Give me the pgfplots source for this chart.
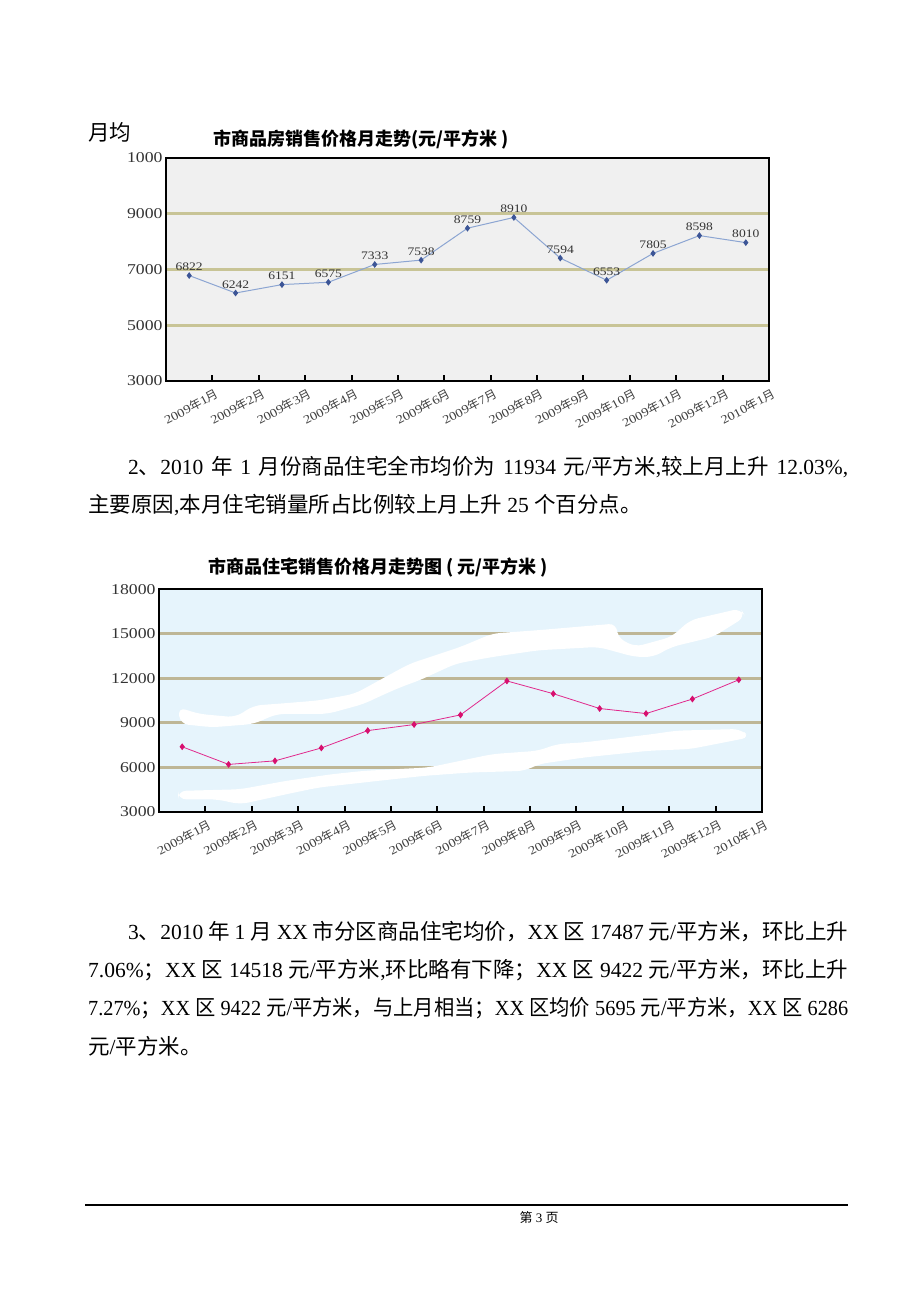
\documentclass[border=0pt]{standalone}
\usepackage{fontspec}
\setmainfont{Liberation Serif}
\newfontfamily\cjk{Noto Sans CJK SC}
\newfontfamily\num[FakeStretch=1.18]{Liberation Serif}
\usepackage{graphicx}
\usepackage{pgfplots}
\pgfplotsset{compat=1.18}

\newcommand\C[1]{{\cjk #1}}
\newcommand\body{\fontsize{21.5}{24}\selectfont}
\newcommand\ylab{\fontsize{15}{15}\selectfont\num}
\newcommand\xlab{\fontsize{12}{12}\selectfont\num}
\newcommand\dlab{\fontsize{11.5}{11.5}\selectfont\num}

\definecolor{gridA}{RGB}{200,196,150}
\definecolor{gridB}{RGB}{190,182,150}
\definecolor{bgA}{RGB}{240,240,240}
\definecolor{bgB}{RGB}{230,244,252}
\definecolor{lineA}{RGB}{140,165,210}
\definecolor{markA}{RGB}{60,85,150}
\definecolor{lineB}{RGB}{225,40,140}
\definecolor{markB}{RGB}{215,15,110}

\pgfplotsset{
  monthchart/.style={
    anchor=south west, scale only axis,
    xmin=-0.5, xmax=12.5,
    scaled y ticks=false,
    axis line style={line width=2.2pt, black},
    ymajorgrids,
    extra y tick style={grid=none, ytick style={draw=none}},
    ytick style={draw=none},
    tick pos=left, tick align=inside,
    major tick length=6pt,
    xtick style={line width=2pt, black},
    xtick={0.5,1.5,...,12.5},
    xticklabels={2009\C{年}1\C{月},2009\C{年}2\C{月},2009\C{年}3\C{月},2009\C{年}4\C{月},
      2009\C{年}5\C{月},2009\C{年}6\C{月},2009\C{年}7\C{月},2009\C{年}8\C{月},
      2009\C{年}9\C{月},2009\C{年}10\C{月},2009\C{年}11\C{月},2009\C{年}12\C{月},2010\C{年}1\C{月}},
    xticklabel style={rotate=28, anchor=north east, font=\xlab, text=black!75, inner sep=1pt, yshift=-6pt},
    yticklabel style={font=\ylab, text=black!80},
  }
}

\begin{document}
\begin{tikzpicture}
\path[use as bounding box, fill=white] (0,0) rectangle (920pt,-1302pt);

% text above the first chart (the rest is hidden by the chart)
\node[anchor=base west, inner sep=0, font=\body] at (88pt,-140.6pt) {\C{月均}};

% chart 1
\node[anchor=base west, inner sep=0, font=\fontsize{18}{18}\selectfont\cjk\bfseries] at (213pt,-145pt) {市商品房销售价格月走势(元/平方米 )};
\begin{axis}[monthchart,
  at={(166pt,-381pt)}, width=603pt, height=223pt,
  ymin=3000, ymax=11000,
  axis background/.style={fill=bgA},
  major grid style={gridA, line width=3pt},
  ytick={5000,7000,9000}, yticklabels={5000,7000,9000},
  extra y ticks={3000,11000}, extra y tick labels={3000,1000},
]
\addplot[lineA, line width=1pt, mark=diamond*, mark size=2.6pt,
  mark options={markA, fill=markA},
  nodes near coords, point meta=explicit symbolic,
  every node near coord/.append style={font=\dlab, text=black!80, anchor=south, yshift=1pt}]
  coordinates {(0,6783)[6822] (1,6157)[6242] (2,6458)[6151] (3,6542)[6575]
    (4,7181)[7333] (5,7337)[7538] (6,8482)[8759] (7,8867)[8910] (8,7410)[7594]
    (9,6614)[6553] (10,7578)[7805] (11,8217)[8598] (12,7964)[8010]};
\end{axis}

% paragraph 2
\node[anchor=base west, inner sep=0, font=\body] at (128pt,-474pt)
  {\makebox[720pt][s]{2\C{、}2010 \C{年} 1 \C{月份商品住宅全市均价为} 11934 \C{元}/\C{平方米},\C{较上月上升} 12.03\%,}};
\node[anchor=base west, inner sep=0, font=\body] at (88pt,-512.6pt)
  {\C{主要原因},\C{本月住宅销量所占比例较上月上升} 25 \C{个百分点。}};

% chart 2
\node[anchor=base west, inner sep=0, font=\fontsize{18}{18}\selectfont\cjk\bfseries] at (208pt,-573pt) {市商品住宅销售价格月走势图 ( 元/平方米 )};
\begin{axis}[monthchart,
  at={(159pt,-811.7pt)}, width=603pt, height=222.4pt,
  ymin=3000, ymax=18000,
  axis background/.style={fill=bgB},
  major grid style={gridB, line width=3pt},
  ytick={6000,9000,12000,15000}, yticklabels={6000,9000,12000,15000},
  extra y ticks={3000,18000}, extra y tick labels={3000,18000},
]
% white cloud streaks of the background
\addplot[fill=white, draw=none, rounded corners=8pt] coordinates {
  (-0.09,10048) (0.36,9596) (1.15,9371) (1.54,10161) (2.04,10274) (2.93,10500)
  (3.72,10952) (4.51,12307) (4.91,12985) (6.0,14115) (6.69,15018) (7.68,15244)
  (9.37,15696) (9.37,14792) (9.76,14115) (10.55,14792) (10.95,15922) (12.04,16712)
  (12.14,16148) (11.45,14792) (10.55,14115) (10.16,13437) (9.76,13437) (8.97,14115)
  (7.68,13889) (6.69,13437) (5.9,12985) (5.11,11856) (4.71,11404) (4.22,10726)
  (3.92,10274) (3.13,9596) (2.04,9596) (1.54,8919) (0.65,8693) (-0.04,8919)} -- cycle;
\addplot[fill=white, draw=none, rounded corners=8pt] coordinates {
  (-0.09,4401) (1.25,4514) (2.24,5079) (3.23,5530) (3.92,5756) (5.31,5982)
  (6.69,6886) (7.68,7112) (8.08,7564) (8.67,7676) (10.16,8241) (10.65,8467)
  (12.04,8580) (12.24,8015) (10.95,7225) (10.06,7112) (8.67,6660) (7.68,6208)
  (7.39,5756) (6.2,5643) (5.21,5417) (4.22,5079) (2.93,4627) (2.24,4175)
  (1.25,3497) (0.75,3836) (-0.09,3836)} -- cycle;
\addplot[lineB, line width=0.8pt, mark=diamond*, mark size=2.8pt,
  mark options={markB, fill=markB}]
  coordinates {(0,7380) (1,6190) (2,6430) (3,7300) (4,8470) (5,8880) (6,9530)
    (7,11820) (8,10960) (9,9960) (10,9620) (11,10600) (12,11900)};
\end{axis}

% paragraph 3
\node[anchor=base west, inner sep=0, font=\body] at (128pt,-939pt)
  {\makebox[720pt][s]{3\C{、}2010 \C{年} 1 \C{月} XX \C{市分区商品住宅均价，}XX \C{区} 17487 \C{元}/\C{平方米，环比上升}}};
\node[anchor=base west, inner sep=0, font=\body] at (88pt,-977.6pt)
  {\makebox[760pt][s]{7.06\%\C{；}XX \C{区} 14518 \C{元}/\C{平方米},\C{环比略有下降；}XX \C{区} 9422 \C{元}/\C{平方米，环比上升}}};
\node[anchor=base west, inner sep=0, font=\body] at (88pt,-1015.6pt)
  {\resizebox{760pt}{\height}{7.27\%\C{；}XX \C{区} 9422 \C{元}/\C{平方米，与上月相当；}XX \C{区均价} 5695 \C{元}/\C{平方米，}XX \C{区} 6286}};
\node[anchor=base west, inner sep=0, font=\body] at (88pt,-1054pt)
  {\C{元}/\C{平方米。}};

% footer
\draw[line width=1.2pt] (85pt,-1205pt) -- (848pt,-1205pt);
\node[anchor=base, inner sep=0, font=\fontsize{13}{13}\selectfont] at (539pt,-1222pt) {\C{第} 3 \C{页}};
\end{tikzpicture}
\end{document}
